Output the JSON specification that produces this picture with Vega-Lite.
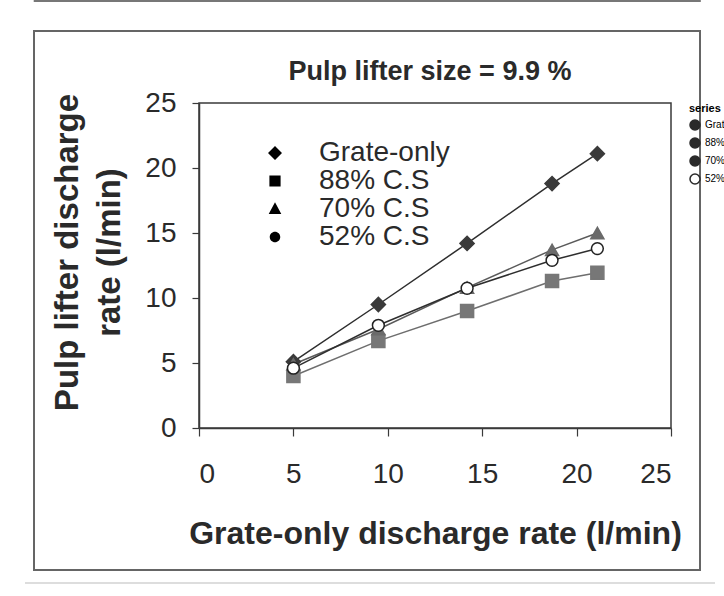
{
  "$schema": "https://vega.github.io/schema/vega-lite/v6.json",
  "width": 472,
  "height": 325,
  "autosize": "none",
  "padding": {"left": 199, "top": 103, "right": 53, "bottom": 168},
  "background": "white",
  "title": {
    "text": "Pulp lifter size = 9.9 %",
    "font": "Liberation Sans",
    "fontSize": 27,
    "fontWeight": "bold",
    "color": "#2a2a2a",
    "anchor": "middle",
    "frame": "group",
    "dx": -5,
    "offset": -86
  },
  "config": {
    "font": "Liberation Sans",
    "view": {"stroke": "#3a3a3a", "strokeWidth": 1.5},
    "axis": {
      "grid": false,
      "domainColor": "#3a3a3a",
      "domainWidth": 1.5,
      "tickColor": "#3a3a3a",
      "tickWidth": 1.2,
      "labelFont": "Liberation Sans",
      "labelFontSize": 28,
      "labelColor": "#2a2a2a",
      "titleFont": "Liberation Sans",
      "titleFontSize": 32,
      "titleFontWeight": "bold",
      "titleColor": "#2a2a2a"
    },
    "legend": {"symbolOpacity": 1}
  },
  "data": {
    "values": [
      {"series": "Grate-only", "grate": 5.0, "lifter": 5.1},
      {"series": "Grate-only", "grate": 9.5, "lifter": 9.5},
      {"series": "Grate-only", "grate": 14.2, "lifter": 14.2},
      {"series": "Grate-only", "grate": 18.7, "lifter": 18.8},
      {"series": "Grate-only", "grate": 21.1, "lifter": 21.1},
      {"series": "88% C.S", "grate": 5.0, "lifter": 4.0},
      {"series": "88% C.S", "grate": 9.5, "lifter": 6.7},
      {"series": "88% C.S", "grate": 14.2, "lifter": 9.0},
      {"series": "88% C.S", "grate": 18.7, "lifter": 11.3},
      {"series": "88% C.S", "grate": 21.1, "lifter": 11.95},
      {"series": "70% C.S", "grate": 5.0, "lifter": 4.9},
      {"series": "70% C.S", "grate": 9.5, "lifter": 7.6},
      {"series": "70% C.S", "grate": 14.2, "lifter": 10.8},
      {"series": "70% C.S", "grate": 18.7, "lifter": 13.7},
      {"series": "70% C.S", "grate": 21.1, "lifter": 15.0},
      {"series": "52% C.S", "grate": 5.0, "lifter": 4.6},
      {"series": "52% C.S", "grate": 9.5, "lifter": 7.9},
      {"series": "52% C.S", "grate": 14.2, "lifter": 10.75},
      {"series": "52% C.S", "grate": 18.7, "lifter": 12.9},
      {"series": "52% C.S", "grate": 21.1, "lifter": 13.8}
    ]
  },
  "resolve": {"scale": {"shape": "independent"}, "legend": {"shape": "independent"}},
  "layer": [
    {
      "description": "outer figure frame",
      "mark": {"type": "rect", "fill": null, "stroke": "#666666", "strokeWidth": 1.5},
      "encoding": {
        "x": {"datum": -8.74, "type": "quantitative"},
        "x2": {"datum": 26.54},
        "y": {"datum": 30.54, "type": "quantitative"},
        "y2": {"datum": -10.92}
      }
    },
    {
      "description": "edge of the figure above",
      "mark": {"type": "rule", "stroke": "#777777", "strokeWidth": 2},
      "encoding": {
        "x": {"datum": -8.74, "type": "quantitative"},
        "x2": {"datum": 26.54},
        "y": {"datum": 32.85, "type": "quantitative"}
      }
    },
    {
      "description": "faint page rule below the figure",
      "mark": {"type": "rule", "stroke": "#dddddd", "strokeWidth": 1.5},
      "encoding": {
        "x": {"datum": -9.2, "type": "quantitative"},
        "x2": {"datum": 27.3},
        "y": {"datum": -11.92, "type": "quantitative"}
      }
    },
    {
      "mark": {"type": "line", "strokeWidth": 1.5},
      "encoding": {
        "x": {
          "field": "grate",
          "type": "quantitative",
          "scale": {"domain": [0, 25], "nice": false},
          "axis": {
            "values": [0, 5, 10, 15, 20, 25],
            "tickSize": 8,
            "labelPadding": 24,
            "title": "Grate-only discharge rate (l/min)",
            "titlePadding": 30
          }
        },
        "y": {
          "field": "lifter",
          "type": "quantitative",
          "scale": {"domain": [0, 25], "nice": false},
          "axis": {
            "values": [0, 5, 10, 15, 20, 25],
            "tickSize": 7,
            "labelPadding": 16,
            "title": ["Pulp lifter discharge", "rate (l/min)"],
            "titleFontSize": 33,
            "titleLineHeight": 42,
            "titleY": 149,
            "titlePadding": 18
          }
        },
        "detail": {"field": "series", "type": "nominal"},
        "stroke": {
          "condition": [
            {"test": "datum.series === '88% C.S'", "value": "#6e6e6e"},
            {"test": "datum.series === '70% C.S'", "value": "#5a5a5a"}
          ],
          "value": "#2e2e2e"
        }
      }
    },
    {
      "description": "plotted markers",
      "mark": {"type": "point", "strokeWidth": 1.5, "opacity": 1},
      "encoding": {
        "x": {"field": "grate", "type": "quantitative"},
        "y": {"field": "lifter", "type": "quantitative"},
        "shape": {
          "field": "series",
          "type": "nominal",
          "scale": {
            "domain": ["Grate-only", "88% C.S", "70% C.S", "52% C.S"],
            "range": ["diamond", "square", "triangle-up", "circle"]
          },
          "legend": null
        },
        "size": {
          "condition": [
            {"test": "datum.series === 'Grate-only'", "value": 200},
            {"test": "datum.series === '52% C.S'", "value": 140}
          ],
          "value": 170
        },
        "fill": {
          "condition": [
            {"test": "datum.series === 'Grate-only'", "value": "#3a3a3a"},
            {"test": "datum.series === '88% C.S'", "value": "#777777"},
            {"test": "datum.series === '70% C.S'", "value": "#6a6a6a"}
          ],
          "value": "#ffffff"
        },
        "stroke": {
          "condition": [
            {"test": "datum.series === 'Grate-only'", "value": "#3a3a3a"},
            {"test": "datum.series === '88% C.S'", "value": "#777777"},
            {"test": "datum.series === '70% C.S'", "value": "#6a6a6a"}
          ],
          "value": "#222222"
        }
      }
    },
    {
      "description": "legend key: line-and-marker symbols, the layer's own points are transparent",
      "mark": {"type": "point", "filled": true, "opacity": 0, "size": 196, "stroke": "#2a2a2a", "strokeWidth": 1.5},
      "encoding": {
        "x": {"field": "grate", "type": "quantitative"},
        "y": {"field": "lifter", "type": "quantitative"},
        "shape": {
          "field": "series",
          "type": "nominal",
          "scale": {
            "domain": ["Grate-only", "88% C.S", "70% C.S", "52% C.S"],
            "range": [
              "M-3.8,0H3.8M0,-1L1,0L0,1L-1,0Z",
              "M-3.8,0H3.8M-0.8,-0.8H0.8V0.8H-0.8Z",
              "M-3.8,0H3.8M0,-0.95L0.9,0.7H-0.9Z",
              "M-3.8,0H-0.75M0.75,0H3.8M0.75,0A0.75,0.75 0 1 1 -0.75,0A0.75,0.75 0 1 1 0.75,0"
            ]
          },
          "legend": {
            "title": null,
            "orient": "none",
            "legendX": 62,
            "legendY": 36,
            "symbolSize": 196,
            "symbolStrokeWidth": 1.5,
            "symbolStrokeColor": "#2a2a2a",
            "symbolOpacity": 1,
            "labelFont": "Liberation Sans",
            "labelFontSize": 28,
            "labelColor": "#2a2a2a",
            "labelOffset": 30,
            "rowPadding": 0
          }
        },
        "fill": {
          "field": "series",
          "type": "nominal",
          "scale": {
            "domain": ["Grate-only", "88% C.S", "70% C.S", "52% C.S"],
            "range": ["#2a2a2a", "#2a2a2a", "#2a2a2a", "#ffffff"]
          }
        }
      }
    }
  ]
}
